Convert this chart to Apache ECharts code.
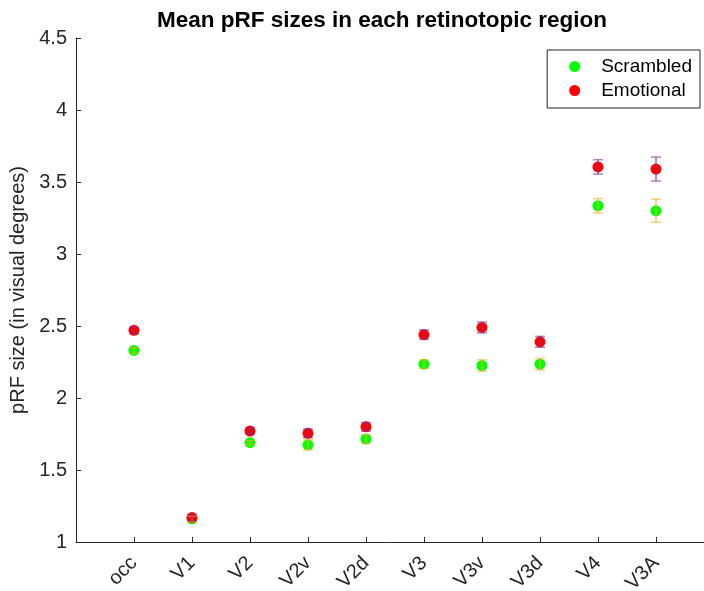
<!DOCTYPE html>
<html>
<head>
<meta charset="utf-8">
<script src="https://cdn.jsdelivr.net/npm/echarts@6/dist/echarts.min.js"></script>
<style>html,body{margin:0;padding:0;background:#fff;}#c{width:704px;height:591px;}</style>
</head>
<body>
<div id="c"></div>
<script>
const categories = ['occ','V1','V2','V2v','V2d','V3','V3v','V3d','V4','V3A'];
const scrambledMean = [2.33, 1.16, 1.69, 1.675, 1.715, 2.235, 2.225, 2.235, 3.335, 3.30];
const scrambledErr  = [0.02, 0.02, 0.015, 0.035, 0.03, 0.03, 0.04, 0.04, 0.05, 0.08];
const emotionalMean = [2.47, 1.17, 1.77, 1.755, 1.80, 2.44, 2.49, 2.39, 3.605, 3.59];
const emotionalErr  = [0.02, 0.02, 0.02, 0.03, 0.03, 0.033, 0.038, 0.038, 0.05, 0.083];
const yTicks = [1, 1.5, 2, 2.5, 3, 3.5, 4, 4.5];

const FONT = 'Liberation Sans, Arial, Helvetica, sans-serif';
const TXT = '#262626';

function pts(means){ return means.map((v,i)=>[i+1, v]); }
function errData(means, errs){ return means.map((v,i)=>[i+1, v-errs[i], v+errs[i]]); }
function errSeries(means, errs, color){
  return {
    type:'custom', silent:true, z:5,
    data: errData(means, errs),
    renderItem: function(params, api){
      const x = api.value(0);
      const lo = api.coord([x, api.value(1)]);
      const hi = api.coord([x, api.value(2)]);
      const hw = 5;
      return {type:'group', children:[
        {type:'line', shape:{x1:lo[0],y1:lo[1],x2:hi[0],y2:hi[1]}, style:{stroke:color,lineWidth:1.2,opacity:0.9}},
        {type:'line', shape:{x1:lo[0]-hw,y1:lo[1],x2:lo[0]+hw,y2:lo[1]}, style:{stroke:color,lineWidth:1.5,opacity:0.6}},
        {type:'line', shape:{x1:hi[0]-hw,y1:hi[1],x2:hi[0]+hw,y2:hi[1]}, style:{stroke:color,lineWidth:1.5,opacity:0.6}}
      ]};
    }
  };
}

const chart = echarts.init(document.getElementById('c'), null, {renderer:'canvas'});
chart.setOption({
  animation:false,
  backgroundColor:'#fff',
  title:{
    text:'Mean pRF sizes in each retinotopic region',
    left:377, top:4, textAlign:'center',
    textStyle:{fontFamily:FONT, fontSize:22.5, fontWeight:'bold', color:'#000'}
  },
  legend:{
    orient:'vertical', right:4, top:50,
    data:['Scrambled','Emotional'],
    icon:'circle', itemWidth:11, itemHeight:11, itemGap:5,
    padding:[7,8,8,22],
    borderColor:'#262626', borderWidth:1, backgroundColor:'#fff',
    textStyle:{fontFamily:FONT, fontSize:19, color:'#000', padding:[0,0,0,16]}
  },
  grid:{left:76, top:38, height:504, width:638, containLabel:false, outerBoundsMode:'none'},
  xAxis:{
    type:'value', min:0, max:11, interval:1,
    axisLine:{show:true, lineStyle:{color:TXT, width:1}},
    axisTick:{show:true, inside:true, length:5, lineStyle:{color:TXT}},
    splitLine:{show:false},
    axisLabel:{
      rotate:45, margin:18, fontFamily:FONT, fontSize:20, color:TXT, showMaxLabel:false,
      formatter:function(v){ return (v>=1 && v<=categories.length) ? categories[v-1] : ''; }
    }
  },
  yAxis:{
    type:'value', min:1, max:4.5, interval:0.5,
    name:'pRF size (in visual degrees)', nameLocation:'middle', nameGap:46,
    nameTextStyle:{fontFamily:FONT, fontSize:20, color:TXT},
    axisLine:{show:true, lineStyle:{color:TXT, width:1}},
    axisTick:{show:true, inside:true, length:5, lineStyle:{color:TXT}},
    splitLine:{show:false},
    axisLabel:{margin:9, fontFamily:FONT, fontSize:20, color:TXT,
      formatter:function(v){ return String(+v.toFixed(1)); }}
  },
  series:[
    {name:'Scrambled', type:'scatter', data:pts(scrambledMean), symbolSize:11,
     itemStyle:{color:'#00ff00', opacity:1}, z:3},
    {name:'Emotional', type:'scatter', data:pts(emotionalMean), symbolSize:11,
     itemStyle:{color:'#ff0000', opacity:1}, z:4},
    errSeries(scrambledMean, scrambledErr, '#EDB120'),
    errSeries(emotionalMean, emotionalErr, '#7E2F8E')
  ]
});
</script>
</body>
</html>
